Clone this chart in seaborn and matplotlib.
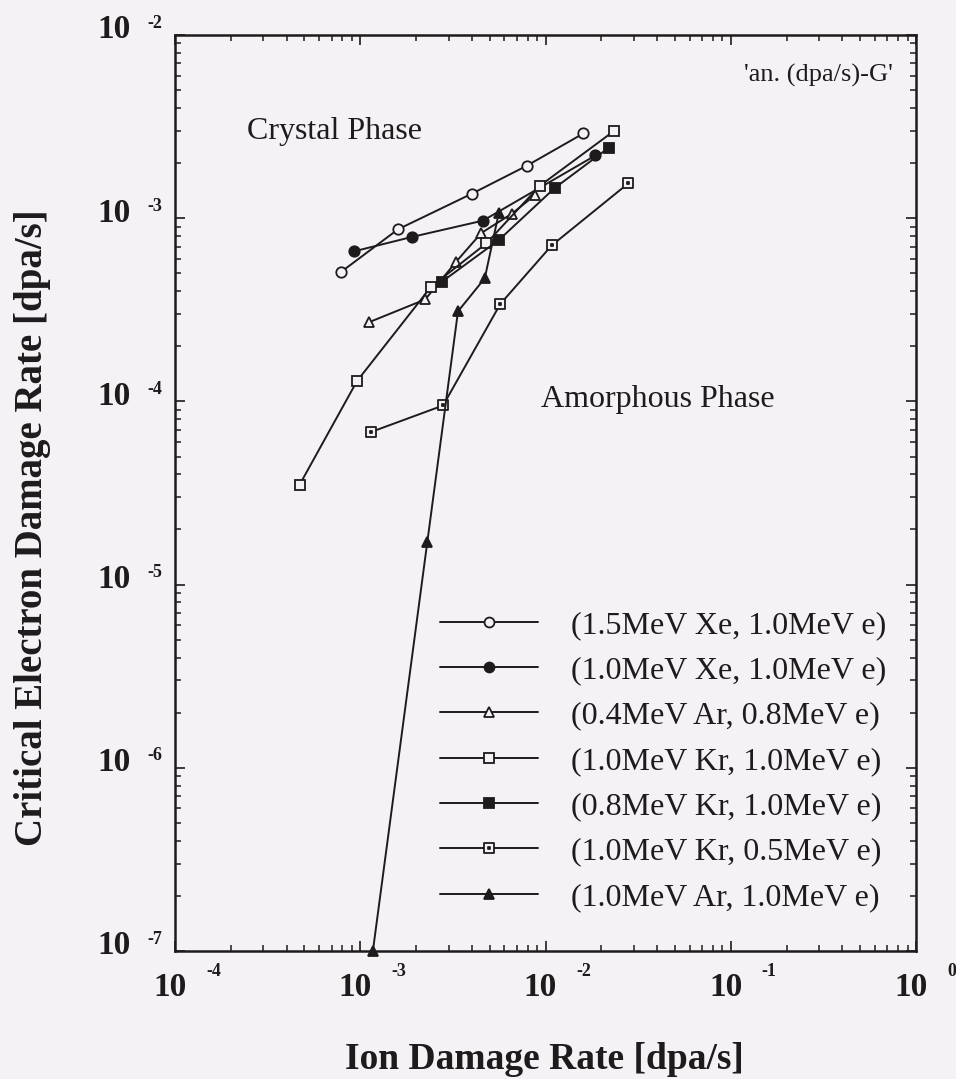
import numpy as np
import pandas as pd
import matplotlib
matplotlib.use("Agg")
import matplotlib.pyplot as plt
from matplotlib.path import Path
from matplotlib.ticker import LogLocator, NullFormatter
import seaborn as sns

# Ion damage rate (x) vs critical electron damage rate (y), dpa/s
xe15_x = [7.9e-4, 1.6e-3, 4.0e-3, 7.9e-3, 1.6e-2]
xe15_y = [5.1e-4, 8.7e-4, 1.36e-3, 1.93e-3, 2.9e-3]

xe10_x = [9.3e-4, 1.9e-3, 4.6e-3, 1.86e-2]
xe10_y = [6.6e-4, 7.9e-4, 9.7e-4, 2.2e-3]

ar04_x = [1.11e-3, 2.24e-3, 3.3e-3, 4.5e-3, 6.6e-3, 8.8e-3]
ar04_y = [2.7e-4, 3.6e-4, 5.8e-4, 8.3e-4, 1.06e-3, 1.34e-3]

kr10_x = [4.7e-4, 9.6e-4, 2.4e-3, 4.8e-3, 9.3e-3, 2.35e-2]
kr10_y = [3.5e-5, 1.29e-4, 4.2e-4, 7.3e-4, 1.5e-3, 3.0e-3]

kr08_x = [2.76e-3, 5.6e-3, 1.12e-2, 2.2e-2]
kr08_y = [4.5e-4, 7.6e-4, 1.46e-3, 2.43e-3]

kr05_x = [1.14e-3, 2.8e-3, 5.7e-3, 1.08e-2, 2.8e-2]
kr05_y = [6.8e-5, 9.5e-5, 3.4e-4, 7.1e-4, 1.55e-3]

ar10_x = [1.17e-3, 2.3e-3, 3.37e-3, 4.7e-3, 5.6e-3]
ar10_y = [1.0e-7, 1.7e-5, 3.1e-4, 4.7e-4, 1.07e-3]

labels = [
    "(1.5MeV Xe, 1.0MeV e)",
    "(1.0MeV Xe, 1.0MeV e)",
    "(0.4MeV Ar, 0.8MeV e)",
    "(1.0MeV Kr, 1.0MeV e)",
    "(0.8MeV Kr, 1.0MeV e)",
    "(1.0MeV Kr, 0.5MeV e)",
    "(1.0MeV Ar, 1.0MeV e)",
]

x_ticks = [1e-4, 1e-3, 1e-2, 1e-1, 1e0]
y_ticks = [1e-7, 1e-6, 1e-5, 1e-4, 1e-3, 1e-2]

INK = "#1e1b1d"
PAPER = "#f4f2f4"

sns.set_theme(style="ticks")
plt.rcParams["font.family"] = ["Liberation Serif", "DejaVu Serif"]
plt.rcParams["text.color"] = INK
plt.rcParams["axes.labelcolor"] = INK

# square with a dot in the middle
dot_square = Path.make_compound_path(
    Path([(-1, -1), (1, -1), (1, 1), (-1, 1), (-1, -1)],
         [Path.MOVETO, Path.LINETO, Path.LINETO, Path.LINETO, Path.CLOSEPOLY]),
    Path([(-0.12, -0.12), (0.12, -0.12), (0.12, 0.12), (-0.12, 0.12), (-0.12, -0.12)],
         [Path.MOVETO, Path.LINETO, Path.LINETO, Path.LINETO, Path.CLOSEPOLY]),
)

series = [
    (xe15_x, xe15_y, "o", PAPER, 7.5),
    (xe10_x, xe10_y, "o", INK, 7.5),
    (ar04_x, ar04_y, "^", PAPER, 7.5),
    (kr10_x, kr10_y, "s", PAPER, 7.5),
    (kr08_x, kr08_y, "s", INK, 7.5),
    (kr05_x, kr05_y, dot_square, PAPER, 7.5),
    (ar10_x, ar10_y, "^", INK, 7.5),
]

fig = plt.figure(figsize=(9.56, 10.79), dpi=100, facecolor=PAPER)
ax = fig.add_axes([175 / 956, 1 - 951 / 1079, 741 / 956, 916 / 1079])
ax.set_facecolor(PAPER)

for (xs, ys, mk, fc, ms), lab in zip(series, labels):
    df = pd.DataFrame({"x": xs, "y": ys})
    sns.lineplot(data=df, x="x", y="y", ax=ax, sort=False, estimator=None,
                 errorbar=None, color=INK, linewidth=1.4, marker=mk,
                 markersize=ms, markerfacecolor=fc, markeredgecolor=INK,
                 markeredgewidth=1.3, label=lab, clip_on=False, zorder=3)

ax.set_xscale("log")
ax.set_yscale("log")
ax.set_xlim(1e-4, 1e0)
ax.set_ylim(1e-7, 1e-2)

for s in ax.spines.values():
    s.set_linewidth(1.8)
    s.set_color(INK)

ax.xaxis.set_major_locator(LogLocator(base=10, numticks=10))
ax.yaxis.set_major_locator(LogLocator(base=10, numticks=10))
ax.xaxis.set_minor_locator(LogLocator(base=10, subs=np.arange(2, 10), numticks=50))
ax.yaxis.set_minor_locator(LogLocator(base=10, subs=np.arange(2, 10), numticks=50))
ax.xaxis.set_major_formatter(NullFormatter())
ax.yaxis.set_major_formatter(NullFormatter())
ax.xaxis.set_minor_formatter(NullFormatter())
ax.yaxis.set_minor_formatter(NullFormatter())
ax.tick_params(which="both", direction="in", top=True, right=True, color=INK)
ax.tick_params(which="major", length=7.5, width=1.2)
ax.tick_params(which="minor", length=4.5, width=1.1)

# power-of-ten tick labels: bold "10" with a small raised exponent
PX = 0.72
for v in x_ticks:
    e = int(round(np.log10(v)))
    ax.annotate("10", xy=(v, 0), xycoords=("data", "axes fraction"),
                xytext=(-5 * PX, -37 * PX), textcoords="offset points",
                ha="center", va="center", fontsize=24, fontweight="bold",
                annotation_clip=False)
    ax.annotate(f"{e}", xy=(v, 0), xycoords=("data", "axes fraction"),
                xytext=(31 * PX, -21 * PX), textcoords="offset points",
                ha="left", va="center", fontsize=13, fontweight="bold",
                annotation_clip=False)
for v in y_ticks:
    e = int(round(np.log10(v)))
    ax.annotate("10", xy=(0, v), xycoords=("axes fraction", "data"),
                xytext=(-44 * PX, 5 * PX), textcoords="offset points",
                ha="right", va="center", fontsize=24, fontweight="bold",
                annotation_clip=False)
    ax.annotate(f"{e}", xy=(0, v), xycoords=("axes fraction", "data"),
                xytext=(-28 * PX, 12 * PX), textcoords="offset points",
                ha="left", va="center", fontsize=13, fontweight="bold",
                annotation_clip=False)

ax.set_xlabel("Ion Damage Rate [dpa/s]", fontsize=27, fontweight="bold")
ax.set_ylabel("Critical Electron Damage Rate [dpa/s]", fontsize=28, fontweight="bold")
ax.xaxis.set_label_coords(0.498, -0.099)
ax.yaxis.set_label_coords(-0.167, 0.462)

ax.text(0.0972, 0.8865, "Crystal Phase", transform=ax.transAxes,
        fontsize=23, va="baseline", ha="left")
ax.text(0.4939, 0.5939, "Amorphous Phase", transform=ax.transAxes,
        fontsize=23, va="baseline", ha="left")
ax.text(0.969, 0.9487, "'an. (dpa/s)-G'", transform=ax.transAxes,
        fontsize=19, va="baseline", ha="right")

ax.legend(loc="upper left", bbox_to_anchor=(0.3576, 0.3716), frameon=False,
          fontsize=23, handlelength=3.07, handletextpad=1.03, labelspacing=0.5,
          borderpad=0, borderaxespad=0, numpoints=1, markerscale=0.95)

fig.savefig("out.png", dpi=100, facecolor=PAPER)
